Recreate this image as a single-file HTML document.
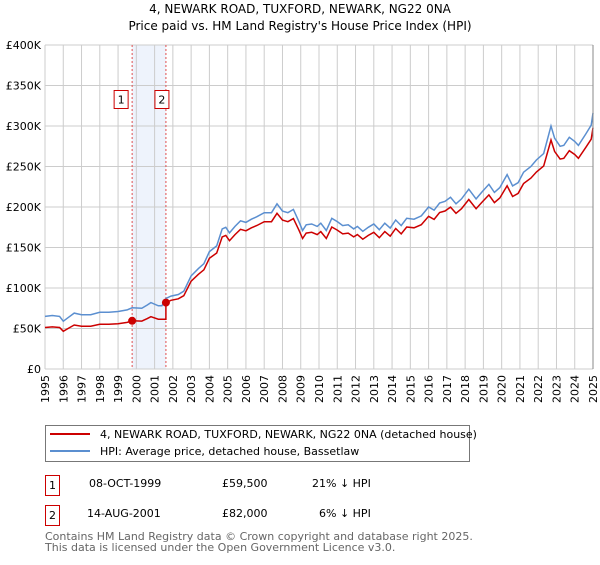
<!DOCTYPE html>
<html><head><meta charset="utf-8"><style>
body{margin:0;background:#fff;}
svg{font-family:"DejaVu Sans","Liberation Sans",sans-serif;}
</style></head><body>
<svg id="chart" width="600" height="560" viewBox="0 0 600 560" xmlns="http://www.w3.org/2000/svg">
<text x="300" y="13" text-anchor="middle" font-size="12">4, NEWARK ROAD, TUXFORD, NEWARK, NG22 0NA</text>
<text x="300" y="30" text-anchor="middle" font-size="12">Price paid vs. HM Land Registry's House Price Index (HPI)</text>
<g id="plot"></g>
<rect x="45.5" y="425.5" width="424" height="36" fill="#fff" stroke="#777"/>
<line x1="50" y1="434" x2="90" y2="434" stroke="#cc0000" stroke-width="2"/>
<text x="100" y="438" font-size="11">4, NEWARK ROAD, TUXFORD, NEWARK, NG22 0NA (detached house)</text>
<line x1="50" y1="451" x2="90" y2="451" stroke="#5b8fd0" stroke-width="2"/>
<text x="100" y="455" font-size="11">HPI: Average price, detached house, Bassetlaw</text>
<g>
<rect x="45.5" y="475.5" width="14" height="20" fill="#fff" stroke="#cc0000"/>
<text x="52.5" y="489" text-anchor="middle" font-size="11">1</text>
<text x="89" y="487" font-size="11">08-OCT-1999</text>
<text x="222" y="487" font-size="11">£59,500</text>
<text x="312" y="487" font-size="11">21% ↓ HPI</text>
</g>
<g>
<rect x="45.5" y="505.5" width="14" height="20" fill="#fff" stroke="#cc0000"/>
<text x="52.5" y="519" text-anchor="middle" font-size="11">2</text>
<text x="87" y="517" font-size="11">14-AUG-2001</text>
<text x="222" y="517" font-size="11">£82,000</text>
<text x="319" y="517" font-size="11">6% ↓ HPI</text>
</g>
<text x="45" y="540" font-size="11" fill="#666">Contains HM Land Registry data © Crown copyright and database right 2025.</text>
<text x="45" y="551" font-size="11" fill="#666">This data is licensed under the Open Government Licence v3.0.</text>
</svg>
<script>
const yTicks=[0,50,100,150,200,250,300,350,400];
const yTickLabels=["£0","£50K","£100K","£150K","£200K","£250K","£300K","£350K","£400K"];
const xYears=[1995,1996,1997,1998,1999,2000,2001,2002,2003,2004,2005,2006,2007,2008,2009,2010,2011,2012,2013,2014,2015,2016,2017,2018,2019,2020,2021,2022,2023,2024,2025];
const hpiT=[1995.0,1995.4,1995.8,1996.0,1996.3,1996.6,1997.0,1997.5,1998.0,1998.5,1999.0,1999.5,1999.77,2000.3,2000.6,2000.8,2001.2,2001.4,2001.62,2001.9,2002.3,2002.6,2003.0,2003.4,2003.7,2004.0,2004.4,2004.7,2004.9,2005.1,2005.4,2005.7,2006.0,2006.3,2006.6,2007.0,2007.4,2007.7,2008.0,2008.3,2008.6,2008.9,2009.1,2009.3,2009.6,2009.9,2010.1,2010.4,2010.7,2011.0,2011.3,2011.6,2011.9,2012.1,2012.4,2012.7,2013.0,2013.3,2013.6,2013.9,2014.2,2014.5,2014.8,2015.2,2015.6,2016.0,2016.3,2016.6,2016.9,2017.2,2017.5,2017.8,2018.2,2018.6,2018.9,2019.3,2019.6,2019.9,2020.3,2020.6,2020.9,2021.2,2021.6,2021.9,2022.3,2022.7,2022.9,2023.2,2023.4,2023.7,2024.0,2024.2,2024.6,2024.9,2025.0];
const hpiV=[65,66,65,59,64,69,67,67,70,70,71,73,75.5,75,79,82,78,78,87,90,92,96,115,124,130,145,152,173,175,168,176,183,181,185,188,193,193,204,195,193,197,182,171,178,179,176,180,171,186,182,177,178,173,176,170,175,179,172,180,174,184,177,186,185,189,200,196,205,207,212,204,210,222,210,218,228,218,224,240,226,230,243,250,258,266,300,285,275,276,286,281,276,290,301,316];
const saleT=[1999.77,2001.62];
const saleV=[59.5,82];
const saleLabels=["1","2"];

const L=45,R=593,T=45,B=369;
const xs=t=>L+(t-1995)/(2025-1995)*(R-L);
const ys=v=>B-v/400*(B-T);
const NS="http://www.w3.org/2000/svg";
const g=document.getElementById('plot');
function mk(tag,at){const e=document.createElementNS(NS,tag);for(const k in at)e.setAttribute(k,at[k]);g.appendChild(e);return e;}
// shaded span
let sh=mk('rect',{x:xs(saleT[0]),y:T,width:xs(saleT[1])-xs(saleT[0]),height:B-T,fill:'#eef3fc'});


yTicks.forEach((v,i)=>{
 let l=mk('line',{x1:L,x2:R,y1:ys(v),y2:ys(v),stroke:'#cccccc','stroke-width':1});
 
 
 let t=mk('text',{x:L-4,y:ys(v)+4,'text-anchor':'end','font-size':11});
 t.textContent=yTickLabels[i];
 
 
});
xYears.forEach(yr=>{
 let l=mk('line',{x1:xs(yr),x2:xs(yr),y1:T,y2:B,stroke:'#cccccc','stroke-width':1});
 
 
 let t=mk('text',{x:0,y:0,'font-size':11,'text-anchor':'end',transform:`translate(${xs(yr)+4},${B+6}) rotate(-90)`});
 t.textContent=yr;
 
 
});
// red series: HPI scaled by sale ratio
function ratioAt(t){
 const i0=hpiT.findIndex(x=>x>=saleT[0]);const i1=hpiT.findIndex(x=>x>=saleT[1]);
 if(t<saleT[1]) return saleV[0]/hpiV[i0];
 return saleV[1]/hpiV[i1];
}
const bluePts=hpiT.map((t,i)=>`${xs(t).toFixed(1)},${ys(hpiV[i]).toFixed(1)}`).join(' ');
let redPts=[];
hpiT.forEach((t,i)=>{
 if(i>0&&hpiT[i-1]<saleT[1]&&t>=saleT[1]){redPts.push(`${xs(saleT[1]).toFixed(1)},${ys(hpiV[i-1]*ratioAt(hpiT[i-1])).toFixed(1)}`);}
 redPts.push(`${xs(t).toFixed(1)},${ys(hpiV[i]*ratioAt(t)).toFixed(1)}`);
});
saleT.forEach((t,i)=>{
 let l=mk('line',{x1:xs(t),x2:xs(t),y1:T,y2:B,stroke:'#e05050','stroke-width':1,'stroke-dasharray':'2,2'});
 
 
});
let bl=mk('polyline',{points:bluePts,fill:'none',stroke:'#5b8fd0','stroke-width':1.5});


let rl=mk('polyline',{points:redPts.join(' '),fill:'none',stroke:'#cc0000','stroke-width':1.5});


saleT.forEach((t,i)=>{
 let c=mk('circle',{cx:xs(t),cy:ys(saleV[i]),r:4,fill:'#cc0000'});
 
 
 let bx=xs(t)+(i==0?-11:-4);
 let r=mk('rect',{x:bx-7,y:90.5,width:14,height:18,fill:'#fff',stroke:'#cc0000'});
 
 
 let tx=mk('text',{x:bx,y:103.5,'text-anchor':'middle','font-size':11});
 tx.textContent=saleLabels[i];
 
 
});
let ax=mk('line',{x1:R,x2:R,y1:T,y2:B,stroke:'#888','stroke-width':1});


</script>
</body></html>
